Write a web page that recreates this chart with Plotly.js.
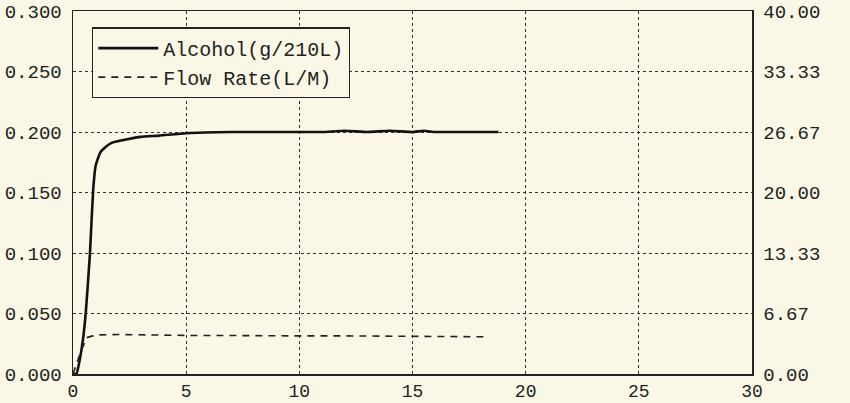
<!DOCTYPE html>
<html><head><meta charset="utf-8">
<script src="https://cdn.plot.ly/plotly-3.0.1.min.js"></script>
<style>html,body{margin:0;padding:0;background:#fbf7e6;}#c{width:850px;height:403px;}</style>
</head><body><div id="c"></div>
<script>
const alcoholTime = [0, 0.15, 0.3, 0.45, 0.57, 0.75, 0.89, 1.0, 1.2, 1.4, 1.7, 2.4, 3.0, 3.8, 5.0, 7.0, 9.0, 11.0, 12.0, 13.0, 14.0, 15.0, 15.5, 16.0, 17.0, 18.0, 18.8];
const alcoholValue = [0, 0.0, 0.012, 0.03, 0.052, 0.1, 0.152, 0.172, 0.183, 0.187, 0.191, 0.194, 0.196, 0.197, 0.199, 0.2, 0.2, 0.2, 0.201, 0.2, 0.201, 0.2, 0.201, 0.2, 0.2, 0.2, 0.2];
const flowTime = [0, 0.25, 0.6, 1.0, 2.0, 3.0, 4.0, 5.0, 6.0, 8.0, 10.0, 12.0, 14.0, 16.0, 18.3];
const flowValue = [0, 1.8, 4.0, 4.3, 4.35, 4.3, 4.3, 4.25, 4.25, 4.2, 4.2, 4.2, 4.15, 4.15, 4.1];
const leftTicks = [0, 0.05, 0.1, 0.15, 0.2, 0.25, 0.3];
const rightTickVals = [0, 20/3, 40/3, 20, 80/3, 100/3, 40];
const rightTickText = ["0.00", "6.67", "13.33", "20.00", "26.67", "33.33", "40.00"];
const xTicks = [0, 5, 10, 15, 20, 25, 30];

const font = {family: "Liberation Mono, Courier New, monospace", size: 20, color: "#222"};
const yfont = {family: "Liberation Mono, Courier New, monospace", size: 19, color: "#222"};
const xfont = {family: "Liberation Mono, Courier New, monospace", size: 18, color: "#222"};
const traces = [
  {x: alcoholTime, y: alcoholValue, name: "Alcohol(g/210L)", mode: "lines", line: {color: "#111", width: 2.6, shape: "spline", smoothing: 0.4}, yaxis: "y"},
  {x: flowTime, y: flowValue, name: "Flow Rate(L/M)", mode: "lines", line: {color: "#222", width: 1.6, dash: "7px,6px"}, yaxis: "y2"}
];
const layout = {
  width: 850, height: 403,
  margin: {l: 73, r: 98, t: 11, b: 29},
  paper_bgcolor: "#fbf7e6", plot_bgcolor: "#fbf7e6",
  font: font,
  showlegend: true,
  legend: {x: 0.028, y: 0.955, xanchor: "left", yanchor: "top", bordercolor: "#222", borderwidth: 1.3, bgcolor: "#fbf7e6", font: font, itemwidth: 60, tracegroupgap: 0},
  xaxis: {range: [0, 30], tickvals: xTicks, ticktext: xTicks.map(String), showgrid: true, gridcolor: "#333", griddash: "dot", gridwidth: 1, showline: true, linecolor: "#222", linewidth: 1.5, mirror: true, ticks: "", zeroline: false, tickfont: xfont, ticklabelstandoff: 0},
  yaxis: {range: [0, 0.3], tickvals: leftTicks, ticktext: leftTicks.map(v => v.toFixed(3)), showgrid: true, gridcolor: "#333", griddash: "dot", gridwidth: 1, showline: true, linecolor: "#222", linewidth: 1.5, mirror: true, ticks: "", zeroline: false, tickfont: yfont, ticklabelstandoff: 6},
  yaxis2: {range: [0, 40], overlaying: "y", side: "right", tickvals: rightTickVals, ticktext: rightTickText, showgrid: false, showline: true, linecolor: "#222", linewidth: 1.5, ticks: "", zeroline: false, tickfont: yfont, ticklabelstandoff: 6}
};
Plotly.newPlot("c", traces, layout, {displayModeBar: false, staticPlot: true});
</script></body></html>
